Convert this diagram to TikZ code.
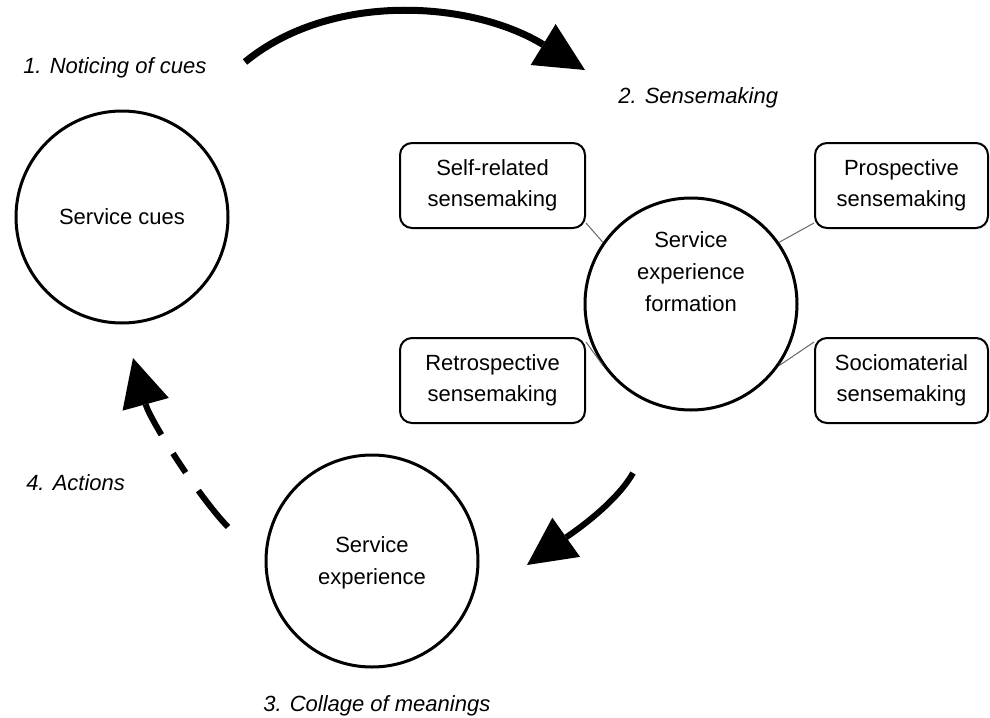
\documentclass[tikz,border=0pt]{standalone}
\usepackage{fontspec}
\setmainfont{Liberation Sans}
\usetikzlibrary{arrows.meta}
\begin{document}
\begin{tikzpicture}[x=0.75pt,y=-0.75pt,
  font=\fontsize{16.5}{24}\selectfont,
  bigcirc/.style={circle, draw, line width=2.25pt, minimum size=159pt, inner sep=0pt},
  inner/.style={align=center, inner sep=0pt},
  sbox/.style={draw, line width=1.5pt, rounded corners=9pt, minimum width=138.75pt,
    minimum height=63.75pt, align=center, inner sep=0pt,
    font=\fontsize{16.5}{23}\selectfont},
  steplabel/.style={font=\fontsize{16.5}{24}\selectfont\itshape, anchor=base west, inner sep=0pt},
  link/.style={draw=black!60, line width=0.75pt},
  flowA/.style={line width=5.25pt, -{Triangle[length=36.75pt,width=36pt,line width=0pt]}},
  flowB/.style={line width=4.5pt, -{Triangle[length=36pt,width=36pt,line width=0pt]}},
]
\useasboundingbox (0,0) rectangle (990,718);

% main circles
\node[bigcirc] (cues) at (122,217) {Service cues};
\node[bigcirc] (form) at (691,304) {};
\node[inner] (formtxt) at (691,272) {Service\\experience\\formation};
\node[bigcirc] (exp) at (372,561) {};
\node[inner] (exptxt) at (372,563) {Service\\experience};

% the four kinds of sensemaking
\node[sbox] (self) at (492.5,185.5) {Self-related\\sensemaking};
\node[sbox, minimum width=129.75pt] (prosp) at (901.5,185.5) {Prospective\\sensemaking};
\node[sbox] (retro) at (492.5,380.5) {Retrospective\\sensemaking};
\node[sbox, minimum width=129.75pt] (socio) at (901.5,380.5) {Sociomaterial\\sensemaking};

\draw[link] ([yshift=4.5pt]self.south east) -- (form.145);
\draw[link] ([yshift=4.5pt]prosp.south west) -- (form.35);
\draw[link] ([yshift=-3.75pt]retro.north east) -- (form.215);
\draw[link] ([yshift=-3.75pt]socio.north west) -- (form.-35);

% step labels
\node[steplabel] (l1) at (23,73) {1. Noticing of cues};
\node[steplabel] (l2) at (618,103) {2. Sensemaking};
\node[steplabel] (l3) at (263,711) {3. Collage of meanings};
\node[steplabel] (l4) at (26,490) {4. Actions};

% cycle arrows
\coordinate (a1s) at (245,62);
\coordinate (a1e) at (585,70);
\draw[flowA] (a1s) .. controls (330,-8) and (470,0) .. (a1e);

\coordinate (a2s) at (633,473);
\coordinate (a2e) at (527,565);
\draw[flowB] (a2s) .. controls (615,505) and (568,536) .. (a2e);

\coordinate (a4s) at (228,527);
\coordinate (a4e) at (133,358);
\draw[flowB, dash pattern=on 35.25pt off 16.5pt on 17.25pt off 16.5pt]
  (a4s) .. controls (198,496) and (150,420) .. (a4e);
\end{tikzpicture}
\end{document}
